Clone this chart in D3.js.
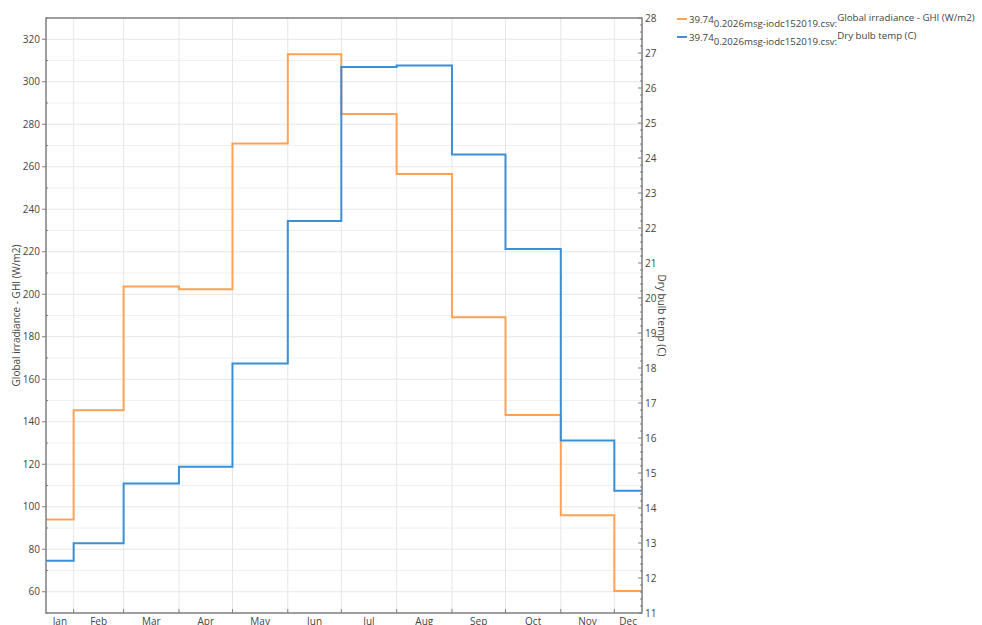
<!DOCTYPE html>
<html><head><meta charset="utf-8">
<script src="https://cdn.jsdelivr.net/npm/d3@7"></script>
<style>
body{margin:0;background:#fff;}
text{font-family:"Open Sans","Segoe UI",sans-serif;}
</style></head>
<body><svg id="c" width="982" height="625"></svg>
<script>
const months = ["Jan","Feb","Mar","Apr","May","Jun","Jul","Aug","Sep","Oct","Nov","Dec"];
const ghi = [94, 145.4, 203.7, 202.4, 271, 313, 284.8, 256.6, 189.2, 143.2, 96, 60.3];
const temp = [12.49, 12.99, 14.7, 15.18, 18.13, 22.2, 26.6, 26.64, 24.1, 21.4, 15.93, 14.49];
const ghiTicks = [60,80,100,120,140,160,180,200,220,240,260,280,300,320];
const tempTicks = [11,12,13,14,15,16,17,18,19,20,21,22,23,24,25,26,27,28];
const legendPrefix = "39.74";
const legendSub = "0.2026msg-iodc152019.csv:";
const seriesNames = ["Global irradiance - GHI (W/m2)", "Dry bulb temp (C)"];
const colors = ["#ffa256", "#3b8fd5"];

const svg = d3.select("#c");
const L = 46, R = 642, T = 18, B = 613;
const year = 2019;
const monthStarts = months.map((m,i)=>new Date(year,i,1));
const yearEnd = new Date(year+1,0,1);
const mid = (i)=>{const a=new Date(year,i,1), b=new Date(year,i+1,1); return new Date((+a + +b)/2);};
const x = d3.scaleTime().domain([mid(0), mid(11)]).range([L,R]);
const yL = d3.scaleLinear().domain([50,330]).range([B,T]);
const yR = d3.scaleLinear().domain([11,28]).range([B,T]);

// grid
const g = svg.append("g");
d3.range(50,331,10).forEach(v=>{
  if (v===50||v===330) return;
  g.append("line").attr("x1",L).attr("x2",R).attr("y1",yL(v)).attr("y2",yL(v))
   .attr("stroke", v%20===0 ? "#e6e6e6" : "#f0f0f0").attr("stroke-width",1);
});
monthStarts.slice(1).forEach(d=>{
  g.append("line").attr("x1",x(d)).attr("x2",x(d)).attr("y1",T).attr("y2",B)
   .attr("stroke","#e6e6e6").attr("stroke-width",1);
});

// clip
svg.append("clipPath").attr("id","clip").append("rect").attr("x",L).attr("y",T).attr("width",R-L).attr("height",B-T);

function stepPts(vals){
  const pts = vals.map((v,i)=>[monthStarts[i], v]);
  pts.push([yearEnd, vals[vals.length-1]]);
  return pts;
}
const lineL = d3.line().x(d=>x(d[0])).y(d=>yL(d[1])).curve(d3.curveStepAfter);
const lineR = d3.line().x(d=>x(d[0])).y(d=>yR(d[1])).curve(d3.curveStepAfter);
const plot = svg.append("g").attr("clip-path","url(#clip)");
plot.append("path").attr("d",lineL(stepPts(ghi))).attr("fill","none").attr("stroke",colors[0]).attr("stroke-width",2);
plot.append("path").attr("d",lineR(stepPts(temp))).attr("fill","none").attr("stroke",colors[1]).attr("stroke-width",2);

// frame
const axc = "#7f7f7f";
svg.append("rect").attr("x",L).attr("y",T).attr("width",R-L).attr("height",B-T)
  .attr("fill","none").attr("stroke",axc).attr("stroke-width",1.5);

const txtc = "#444";
// left axis
const la = svg.append("g");
ghiTicks.forEach(v=>{
  la.append("line").attr("x1",L-4).attr("x2",L).attr("y1",yL(v)).attr("y2",yL(v)).attr("stroke",axc);
  la.append("text").attr("x",L-6).attr("y",yL(v)).attr("dy","0.35em").attr("text-anchor","end")
    .attr("font-size",10).attr("fill",txtc).text(v);
});
d3.range(50,331,10).filter(v=>v%20!==0).forEach(v=>{
  la.append("line").attr("x1",L).attr("x2",L+2).attr("y1",yL(v)).attr("y2",yL(v)).attr("stroke",axc);
});
// right axis
const ra = svg.append("g");
tempTicks.forEach(v=>{
  ra.append("line").attr("x1",R-4).attr("x2",R).attr("y1",yR(v)).attr("y2",yR(v)).attr("stroke",axc);
  ra.append("text").attr("x",R+3).attr("y",yR(v)).attr("dy","0.35em").attr("text-anchor","start")
    .attr("font-size",10).attr("fill",txtc).text(v);
});
d3.range(11,28,0.2).forEach(v=>{
  if (Math.abs(v-Math.round(v))<1e-6) return;
  ra.append("line").attr("x1",R-2).attr("x2",R+1).attr("y1",yR(v)).attr("y2",yR(v)).attr("stroke",axc);
});
// x axis
const xa = svg.append("g");
monthStarts.slice(1).forEach(d=>{
  xa.append("line").attr("x1",x(d)).attr("x2",x(d)).attr("y1",B-4).attr("y2",B).attr("stroke",axc);
});
months.forEach((m,i)=>{
  const a = Math.max(x(monthStarts[i]), L);
  const b = Math.min(x(i<11?monthStarts[i+1]:yearEnd), R);
  xa.append("text").attr("x",(a+b)/2).attr("y",B+12).attr("text-anchor","middle")
    .attr("font-size",10).attr("fill",txtc).text(m);
});

// axis titles
svg.append("text").attr("transform",`translate(20,${(T+B)/2}) rotate(-90)`).attr("text-anchor","middle")
  .attr("font-size",10).attr("fill",txtc).text(seriesNames[0]);
svg.append("text").attr("transform",`translate(658,${(T+B)/2}) rotate(90)`).attr("text-anchor","middle")
  .attr("font-size",10).attr("fill",txtc).text(seriesNames[1]);

// legend
seriesNames.forEach((s,i)=>{
  const y0 = 19 + i*18;
  svg.append("line").attr("x1",677).attr("x2",687).attr("y1",y0).attr("y2",y0).attr("stroke",colors[i]).attr("stroke-width",2);
  const t = svg.append("text").attr("x",689).attr("y",y0+3.5).attr("font-size",9.7).attr("fill",txtc);
  t.append("tspan").text(legendPrefix);
  t.append("tspan").attr("dy",4).text(legendSub);
  t.append("tspan").attr("dy",-6).text(s);
});
</script></body></html>
